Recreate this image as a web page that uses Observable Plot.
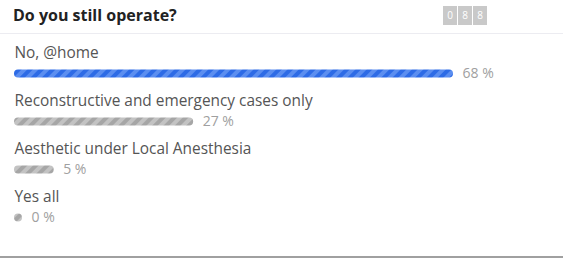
<!DOCTYPE html>
<html>
<head>
<meta charset="utf-8">
<script src="https://cdn.jsdelivr.net/npm/d3@7"></script>
<script src="https://cdn.jsdelivr.net/npm/@observablehq/plot@0.6"></script>
<style>
  html, body { margin: 0; padding: 0; background: #fff; }
  #wrap { position: relative; width: 563px; height: 259px; overflow: hidden; font-family: "Open Sans", sans-serif; }
  #header { position: absolute; left: 0; top: 0; width: 563px; height: 33px; border-bottom: 1px solid #ececf1; }
  #title { position: absolute; left: 13px; top: 4px; font-size: 16px; font-weight: 700; color: #222; }
  #counter { position: absolute; left: 443px; top: 6px; display: flex; gap: 1px; }
  #counter span { width: 14px; height: 19px; background: #c9c9c9; color: #fff; font-size: 10px; line-height: 19px; text-align: center; }
  #chart { position: absolute; left: 0; top: 34px; }
  #bottom { position: absolute; left: 0; top: 256px; width: 563px; height: 2px; background: #a0a0a0; }
</style>
</head>
<body>
<div id="wrap">
  <div id="header"><div id="title"></div><div id="counter"></div></div>
  <div id="chart"></div>
  <div id="bottom"></div>
</div>
<script>
const title = "Do you still operate?";
const voteCount = "088";
const categories = ["No, @home", "Reconstructive and emergency cases only", "Aesthetic under Local Anesthesia", "Yes all"];
const values = [68, 27, 5, 0];
const highlight = [true, false, false, false];

document.getElementById("title").textContent = title;
const counter = document.getElementById("counter");
for (const ch of voteCount) { const s = document.createElement("span"); s.textContent = ch; counter.appendChild(s); }

const data = categories.map((c, i) => ({label: c, value: values[i], hi: highlight[i]}));

const plot = Plot.plot({
  width: 563,
  height: 222,
  marginLeft: 14, marginRight: 0, marginTop: 0, marginBottom: 0,
  style: {fontFamily: "Open Sans, sans-serif", background: "transparent"},
  x: {domain: [0, 68], range: [18, 449], axis: null},
  y: {type: "point", domain: categories, range: [39, 183], padding: 0, axis: null},
  color: {type: "identity"},
  marks: [
    Plot.ruleY(data, {y: "label", x1: 0, x2: "value",
      stroke: d => d.hi ? "url(#stripeBlue)" : "url(#stripeGray)",
      strokeWidth: 8, strokeLinecap: "round"}),
    Plot.text(data, {y: "label", text: "label", frameAnchor: "left", textAnchor: "start", dy: -20, fontSize: 15.4, fill: "#555"}),
    Plot.text(data, {y: "label", x: "value", text: d => d.value + " %", textAnchor: "start", dx: 13, fontSize: 14, fill: "#a0a0a0"})
  ]
});

const ns = "http://www.w3.org/2000/svg";
const defs = document.createElementNS(ns, "defs");
function pattern(id, base, stripe) {
  const p = document.createElementNS(ns, "pattern");
  p.setAttribute("id", id);
  p.setAttribute("patternUnits", "userSpaceOnUse");
  p.setAttribute("width", 8); p.setAttribute("height", 8);
  p.setAttribute("patternTransform", "rotate(45)");
  const r1 = document.createElementNS(ns, "rect");
  r1.setAttribute("width", 8); r1.setAttribute("height", 8); r1.setAttribute("fill", base);
  const r2 = document.createElementNS(ns, "rect");
  r2.setAttribute("width", 4); r2.setAttribute("height", 8); r2.setAttribute("fill", stripe);
  p.appendChild(r1); p.appendChild(r2);
  defs.appendChild(p);
}
pattern("stripeBlue", "#2d6be6", "#5b8ef0");
pattern("stripeGray", "#a6a6a6", "#c3c3c3");
plot.insertBefore(defs, plot.firstChild);
document.getElementById("chart").appendChild(plot);
</script>
</body>
</html>
